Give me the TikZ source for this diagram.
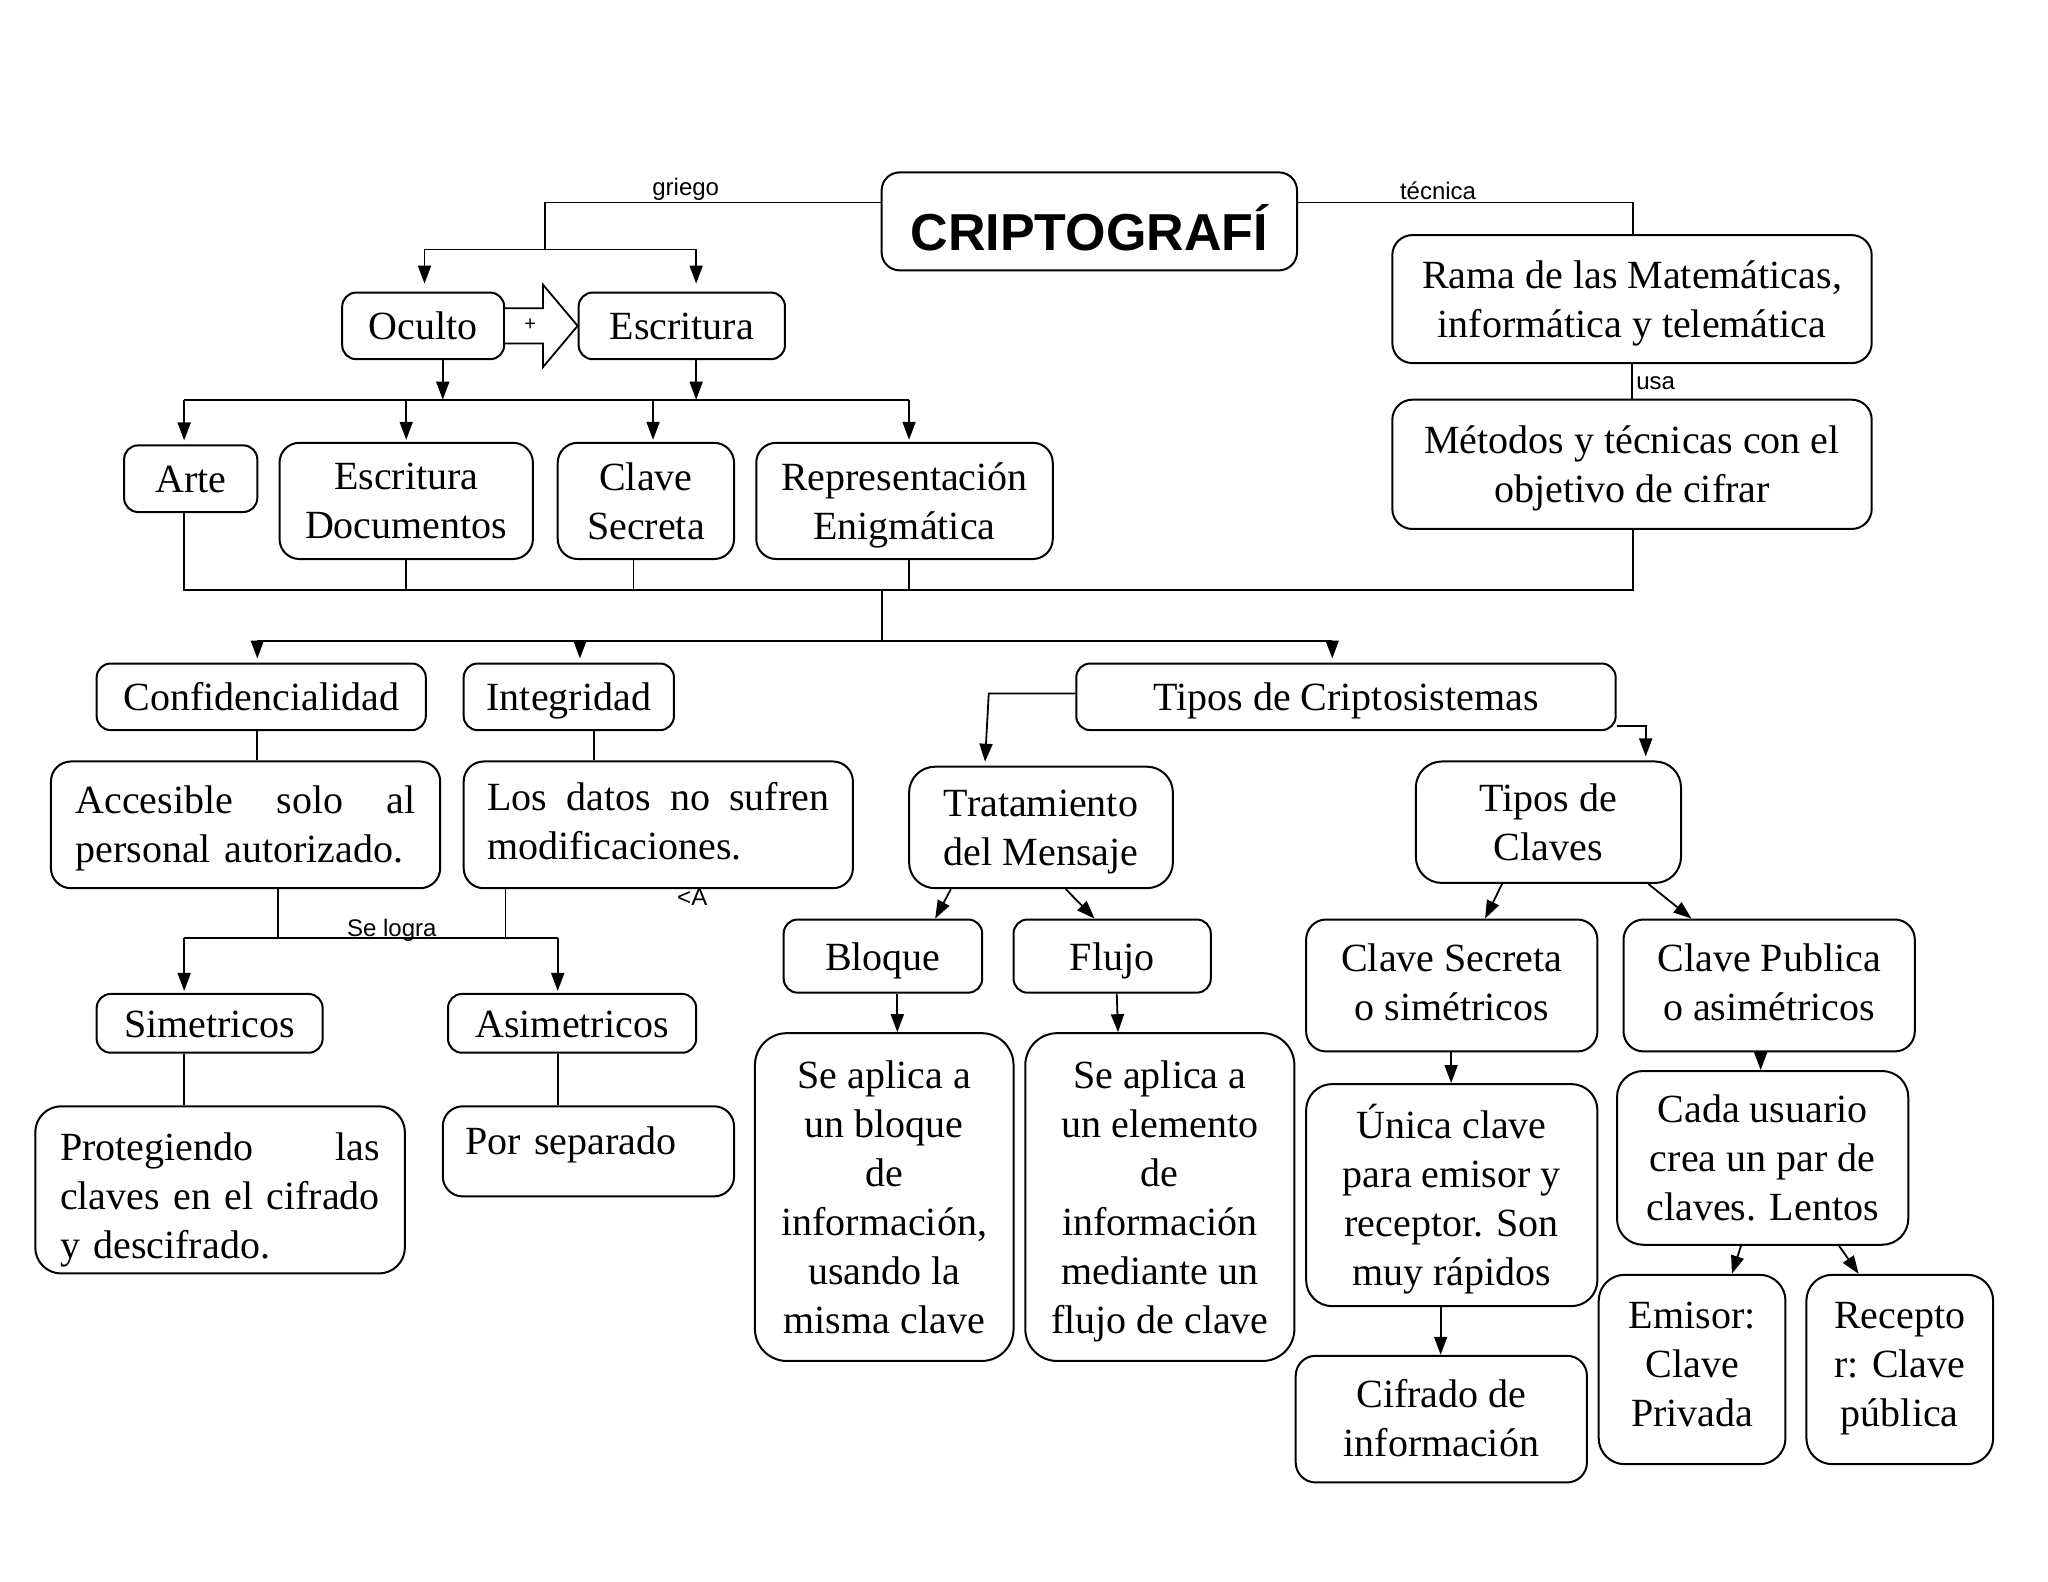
\documentclass[tikz,border=0pt]{standalone}
\usepackage{fontspec}
\setmainfont{Liberation Serif}
\newfontfamily\sansfnt{Liberation Sans}
\usetikzlibrary{arrows.meta,calc}
\def\pxu{0.65306pt}
\tikzset{
  cbox/.style 2 args={draw, line width=1pt, rounded corners=7pt,
    minimum width=#1*\pxu, minimum height=#2*\pxu, inner sep=1pt,
    align=center, text depth=0pt, font=\fontsize{20}{24.5}\selectfont},
  one/.style={text height=14pt, text depth=0pt},
  mid/.style={rounded corners=10pt},
  large/.style={rounded corners=13pt},
  huge/.style={rounded corners=16pt},
  conn/.style={line width=0.9pt},
  arr/.style={conn, -{Triangle[length=9pt,width=6.5pt]}},
  lbl/.style={font=\sansfnt\fontsize{12}{14}\selectfont, inner sep=1pt},
}
\begin{document}
\begin{tikzpicture}[x=0.65306pt,y=-0.65306pt]
\useasboundingbox (0,0) rectangle (1568,1211.2);

% ---------- nodes ----------
\node[cbox={318}{75}, rounded corners=9pt, text height=29pt, text depth=0pt, font=\sansfnt\bfseries\fontsize{26}{30}\selectfont] (cripto) at (834,169.5) {CRIPTOGRAFÍ};
\node[cbox={124}{51}, one] (oculto) at (324,249.5) {Oculto};
\node[cbox={158}{51}, one] (escritura) at (522,249.5) {Escritura};
\node[cbox={102}{51}, one] (arte) at (146,366.5) {Arte};
\node[cbox={194}{89}, mid] (escdoc) at (311,383.5) {Escritura\\Documentos};
\node[cbox={135}{89}, mid] (clavesec) at (494.5,383.5) {Clave\\Secreta};
\node[cbox={227}{89}, mid] (repre) at (692.5,383.5) {Representación\\Enigmática};
\node[cbox={367}{98}, mid] (rama) at (1249.5,229) {Rama de las Matemáticas,\\informática y telemática};
\node[cbox={367}{99}, mid] (metodos) at (1249.5,355.5) {Métodos y técnicas con el\\objetivo de cifrar};

\node[cbox={252}{51}, one] (confi) at (200,533.5) {Confidencialidad};
\node[cbox={161}{51}, one] (integ) at (435.5,533.5) {Integridad};
\node[cbox={413}{51}, one] (tipos) at (1030.5,533.5) {Tipos de Criptosistemas};

\node[cbox={298}{97}, mid, align=left, text width=170pt, text depth=25pt] (acces) at (188,631.5) {Accesible\hfill solo\hfill al\\personal autorizado.};
\node[cbox={298}{97}, mid, align=left, text width=171pt, text depth=28pt] (losdatos) at (504,631.5) {Los\hfill datos\hfill no\hfill sufren\\modificaciones.};

\node[cbox={173}{45}, one] (simet) at (160.5,783.5) {Simetricos};
\node[cbox={190}{45}, one] (asimet) at (438,783.5) {Asimetricos};
\node[cbox={283}{128}, large, align=left, text width=160pt, text depth=43pt] (proteg) at (168.5,911) {Protegiendo\hfill las\\\mbox{claves en el cifrado}\\y descifrado.};
\node[cbox={223}{69}, mid, align=left, text width=123pt, text height=14pt, text depth=11pt] (porsep) at (450.5,881.5) {Por separado};

\node[cbox={202}{93}, large] (tratam) at (797,633.5) {Tratamiento\\del Mensaje};
\node[cbox={203}{93}, large] (tclaves) at (1185.5,629.5) {Tipos de\\Claves};
\node[cbox={152}{56}, one] (bloque) at (676,732) {Bloque};
\node[cbox={151}{56}, one] (flujo) at (851.5,732) {Flujo};
\node[cbox={198}{251}, huge] (apl1) at (677,916.5) {Se aplica a\\un bloque\\de\\información,\\usando la\\misma clave};
\node[cbox={206}{251}, huge] (apl2) at (888,916.5) {Se aplica a\\un elemento\\de\\información\\mediante un\\flujo de clave};
\node[cbox={223}{101}, mid, text depth=3pt] (csecreta) at (1111.5,754.5) {Clave Secreta\\o simétricos};
\node[cbox={223}{101}, mid, text depth=3pt] (cpublica) at (1354.5,754.5) {Clave Publica\\o asimétricos};
\node[cbox={223}{170}, large] (unica) at (1111.5,915) {Única clave\\para emisor y\\receptor. Son\\muy rápidos};
\node[cbox={223}{133}, large] (cada) at (1349.5,886.5) {Cada usuario\\crea un par de\\claves. Lentos};
\node[cbox={223}{97}, mid, text depth=1pt] (cifrado) at (1103.5,1086.5) {Cifrado de\\información};
\node[cbox={143}{145}, large, text depth=5.5pt] (emisor) at (1295.5,1048.5) {Emisor:\\Clave\\Privada};
\node[cbox={143}{145}, large, text depth=5.5pt] (recepto) at (1454.5,1048.5) {Recepto\\r: Clave\\pública};

% ---------- labels ----------
\node[lbl, anchor=south] (lgriego) at (525,155) {griego};
\node[lbl, anchor=south] (ltecnica) at (1101,155) {técnica};
\node[lbl, anchor=west] (lusa) at (1251,293) {usa};
\node[lbl, anchor=base] (llogra) at (300,717) {Se logra};
\node[lbl] (lA) at (530,687) {<A};

% ---------- top: griego ----------
\coordinate (g1) at (417,155);
\coordinate (g2) at (417,191);
\coordinate (bA) at (325,191);
\coordinate (bB) at (533,191);
\draw[conn] (cripto.west |- g1) -- (g1) -- (g2);
\draw[conn] (bA) -- (bB);
\draw[arr, shorten >=4pt] (bA) -- (bA |- oculto.north);
\draw[arr, shorten >=4pt] (bB) -- (bB |- escritura.north);

% hollow arrow Oculto -> Escritura
\draw[line width=0.9pt, fill=white]
  ($(oculto.east)+(0,-13.5)$) -- ($(oculto.east)+(29,-13.5)$) -- ($(oculto.east)+(29,-31.5)$)
  -- (escritura.west) -- ($(oculto.east)+(29,31.5)$) -- ($(oculto.east)+(29,13.5)$) -- ($(oculto.east)+(0,13.5)$);
\node[lbl, font=\sansfnt\fontsize{10}{12}\selectfont] (lplus) at (406,249) {+};

% ---------- second bus ----------
\coordinate (o1) at (339,306);
\coordinate (e1) at (533,306);
\coordinate (c1) at (141,306);
\coordinate (c2) at (311,306);
\coordinate (c3) at (500,306);
\coordinate (c4) at (696,306);
\draw[arr] (o1 |- oculto.south) -- (o1);
\draw[arr] (e1 |- escritura.south) -- (e1);
\draw[conn] (c1) -- (c4);
\draw[arr, shorten >=2pt] (c1) -- (c1 |- arte.north);
\draw[arr, shorten >=1pt] (c2) -- (c2 |- escdoc.north);
\draw[arr, shorten >=1pt] (c3) -- (c3 |- clavesec.north);
\draw[arr, shorten >=1pt] (c4) -- (c4 |- repre.north);

% ---------- bottom collecting bus ----------
\coordinate (d1) at (141,452);
\coordinate (d2) at (311,452);
\coordinate (d3) at (485,452);
\coordinate (d4) at (696,452);
\coordinate (d5) at (1250,452);
\coordinate (d6) at (675,452);
\draw[conn] (d1 |- arte.south) -- (d1) -- (d5) -- (d5 |- metodos.south);
\draw[conn] (d2 |- escdoc.south) -- (d2);
\draw[conn] (d3 |- clavesec.south) -- (d3);
\draw[conn] (d4 |- repre.south) -- (d4);

% técnica / usa
\coordinate (t1) at (1250,155);
\draw[conn] (cripto.east |- t1) -- (t1) -- (t1 |- rama.north);
\draw[conn] (rama.south) -- (metodos.north);

% ---------- third bus ----------
\coordinate (e0) at (675,491);
\coordinate (f1) at (197,491);
\coordinate (f2) at (444,491);
\coordinate (f3) at (1020,491);
\draw[conn] (d6) -- (e0);
\draw[conn] (f1) -- (f3);
\draw[arr, shorten >=2pt] (f1) -- (f1 |- confi.north);
\draw[arr, shorten >=2pt] (f2) -- (f2 |- integ.north);
\draw[arr, shorten >=2pt] (f3) -- (f3 |- tipos.north);

% ---------- left branch ----------
\coordinate (h1) at (197,570);
\coordinate (h2) at (455,570);
\draw[conn] (h1 |- confi.south) -- (h1 |- acces.north);
\draw[conn] (h2 |- integ.south) -- (h2 |- losdatos.north);
\coordinate (k0) at (141,718);
\coordinate (k1) at (213,718);
\coordinate (k2) at (387,718);
\coordinate (k3) at (427,718);
\draw[conn] (k1 |- acces.south) -- (k1);
\draw[conn] (k2 |- losdatos.south) -- (k2);
\draw[conn] (k0) -- (k3);
\draw[arr, shorten >=1pt] (k0) -- (k0 |- simet.north);
\draw[arr, shorten >=1pt] (k3) -- (k3 |- asimet.north);
\coordinate (m1) at (141,830);
\coordinate (m2) at (427,830);
\draw[conn] (m1 |- simet.south) -- (m1 |- proteg.north);
\draw[conn] (m2 |- asimet.south) -- (m2 |- porsep.north);

% ---------- Tipos de Criptosistemas ----------
\coordinate (n1) at (757,531);
\coordinate (n2) at (754,0);
\draw[arr, shorten >=2pt] (tipos.west |- n1) -- (n1) -- (n2 |- tratam.north);
\coordinate (p1) at (1260,556);
\draw[arr, shorten >=2pt] (tipos.east |- p1) -- (p1) -- (p1 |- tclaves.north);

\coordinate (q1) at (728,0);
\coordinate (q2) at (716,0);
\coordinate (q3) at (816,0);
\coordinate (q4) at (838,0);
\draw[arr] (q1 |- tratam.south) -- (q2 |- bloque.north);
\draw[arr] (q3 |- tratam.south) -- (q4 |- flujo.north);
\coordinate (r1) at (687,0);
\coordinate (r2) at (855,0);
\coordinate (r3) at (856,0);
\draw[arr] (r1 |- bloque.south) -- (r1 |- apl1.north);
\draw[arr] (r2 |- flujo.south) -- (r3 |- apl2.north);

\coordinate (s1) at (1150,0);
\coordinate (s2) at (1137,0);
\coordinate (s3) at (1262,0);
\coordinate (s4) at (1295,0);
\draw[arr] (s1 |- tclaves.south) -- (s2 |- csecreta.north);
\draw[arr] (s3 |- tclaves.south) -- (s4 |- cpublica.north);
\coordinate (u1) at (1111,0);
\coordinate (u2) at (1348,0);
\coordinate (u3) at (1103,0);
\draw[arr] (u1 |- csecreta.south) -- (u1 |- unica.north);
\draw[arr] (u2 |- cpublica.south) -- (u2 |- cada.north);
\draw[arr] (u3 |- unica.south) -- (u3 |- cifrado.north);
\coordinate (w1) at (1333,0);
\coordinate (w2) at (1326,0);
\coordinate (w3) at (1408,0);
\coordinate (w4) at (1423,0);
\draw[arr] (w1 |- cada.south) -- (w2 |- emisor.north);
\draw[arr] (w3 |- cada.south) -- (w4 |- recepto.north);
\end{tikzpicture}
\end{document}
